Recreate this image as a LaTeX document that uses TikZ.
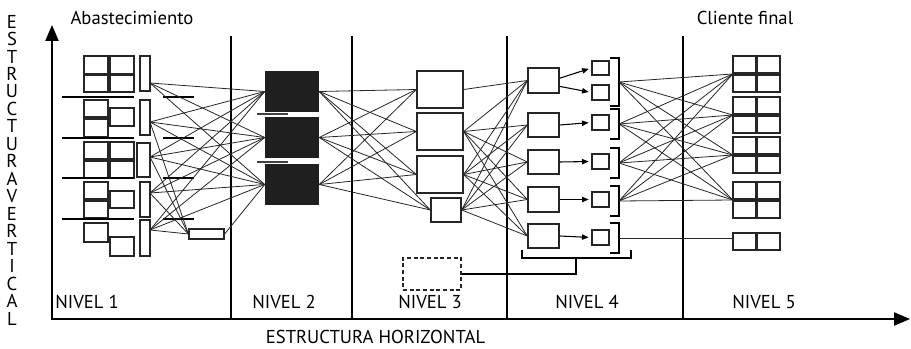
\documentclass[tikz,border=0pt]{standalone}
\usepackage{fontspec}
\setmainfont{PT Sans}
\usetikzlibrary{arrows.meta,fit}

\tikzset{
  box/.style={draw=black!85, line width=1pt, inner sep=0pt},
  blk/.style={fill=black!88, inner sep=0pt},
  wire/.style={line width=0.6pt, black!85},
  arr/.style={line width=0.8pt, -{Triangle[length=5pt,width=4pt]}, shorten >=2pt},
  lbl/.style={font=\fontsize{14}{16}\selectfont, inner sep=0pt},
}

\begin{document}
\begin{tikzpicture}[x=0.75pt, y=-0.75pt]
  \useasboundingbox (0,0) rectangle (911,349);

  % axes and level separators
  \draw[line width=1pt, {Triangle[length=12pt,width=10pt]}-{Triangle[length=12pt,width=10pt]}]
    (52,25) -- (52,319) -- (910,319);
  \foreach \x in {231,352,507,683}
    \draw[line width=0.8pt] (\x,36) -- (\x,319);

  % nivel 1
  \foreach \n/\xa/\ya/\xb/\yb in {a11/84/56/108/74, a12/110/56/134/74, a13/84/75/108/92,
      a14/110/75/134/92, n1/140/56/150/91,
      a21/84/100/108/117, a22/84/119/108/137, a23/110/108/134/126, n2/140/100/150/135,
      a31/84/142/108/159, a32/110/142/134/159, a33/84/161/108/178, a34/110/161/134/178,
      n3/137/143/150/177,
      a41/84/182/108/199, a42/84/201/108/218, a43/110/191/134/208, n4/140/182/150/217,
      a51/84/223/108/242, a52/110/237/134/256, n5/140/220/150/256, h/189/229/224/239}
    \node[box, fit={(\xa,\ya) (\xb,\yb)}] (\n) {};
  \foreach \y in {97,138,178,219} {
    \draw[line width=1pt] (62,\y) -- (134,\y);
    \draw[line width=1pt] (163,\y) -- (194,\y);
  }
  \coordinate (o1) at (150,83);
  \coordinate (o2) at (150,122);
  \coordinate (o3) at (150,157);
  \coordinate (o4) at (150,193);
  \coordinate (o5) at (150,230);

  % nivel 2
  \foreach \n/\ya/\yb in {b1/71/112, b2/117/158, b3/164/205}
    \node[blk, fit={(265,\ya) (319,\yb)}] (\n) {};
  \draw[line width=1.2pt, black!75] (257,114) -- (288,114);
  \draw[line width=1.2pt, black!75] (257,162) -- (288,162);

  % nivel 3
  \foreach \n/\xa/\ya/\xb/\yb in {c1/417/71/463/108, c2/417/113/463/150,
      c3/417/156/463/193, c4/431/198/461/222}
    \node[box, fit={(\xa,\ya) (\xb,\yb)}] (\n) {};
  \node[box, line width=0.8pt, dash pattern=on 3pt off 2pt, fit={(403,258) (461,290)}] (cd) {};

  % nivel 4
  \foreach \n/\ya/\yb in {d1/68/93, d2/113/137, d3/150/174, d4/187/212, d5/224/248}
    \node[box, fit={(528,\ya) (559,\yb)}] (\n) {};
  \foreach \n/\ya/\yb in {e1a/61/75, e1b/85/100, e2/115/130, e3/154/169, e4/192/207, e5/230/245}
    \node[box, fit={(592,\ya) (609,\yb)}] (\n) {};
  \foreach \t/\b/\k in {58/106/1, 109/139/2, 148/178/3, 186/216/4, 223/253/5} {
    \draw[line width=1pt] (610,\t) -- (619,\t) -- (619,\b) -- (610,\b);
    \coordinate (k\k) at (619,{(\t+\b)/2});
  }
  \draw[line width=1pt] (522,250) -- (522,258) -- (631,258) -- (631,250);
  \coordinate (kb) at (576,258);
  \draw[line width=1pt] (kb) |- (cd.east);

  % nivel 5
  \foreach \g/\ya/\yb/\yc/\yd in {A/56/73/75/92, B/97/114/116/133, C/137/154/156/173, D/182/199/201/218} {
    \node[box, fit={(733,\ya) (756,\yb)}] (f\g1) {};
    \node[box, fit={(757,\ya) (780,\yb)}] (f\g2) {};
    \node[box, fit={(733,\yc) (756,\yd)}] (f\g3) {};
    \node[box, fit={(757,\yc) (780,\yd)}] (f\g4) {};
    \node[inner sep=0pt, fit={(733,\ya) (780,\yd)}] (g\g) {};
  }
  \node[box, fit={(733,233) (756,250)}] (fE1) {};
  \node[box, fit={(757,233) (780,250)}] (fE2) {};
  \node[inner sep=0pt, fit={(733,233) (780,250)}] (gE) {};

  % connections
  \foreach \i in {1,...,5}
    \foreach \j in {1,2,3}
      \draw[wire] (o\i) -- (b\j.west);
  \foreach \i in {2,...,5}
    \draw[wire] (o\i) -- (h.west);
  \draw[wire] (h.east) -- (b3.west);
  \foreach \i in {1,2,3}
    \foreach \j in {1,...,4}
      \draw[wire] (b\i.east) -- (c\j.west);
  \draw[wire] (c1.east) -- (d1.west);
  \foreach \i in {2,3,4}
    \foreach \j in {1,...,5}
      \draw[wire] (c\i.east) -- (d\j.west);
  \draw[arr] (d1.8) -- (e1a.west);
  \draw[arr] (d1.-20) -- (e1b.west);
  \foreach \i in {2,...,5}
    \draw[arr] (d\i.east) -- (e\i.west);
  \foreach \i in {1,...,4}
    \foreach \g in {A,B,C,D}
      \draw[wire] (k\i) -- (g\g.west);
  \draw[wire] (k5) -- (k5 -| gE.west);

  % labels
  \node[lbl] (abs) at (132,18) {Abastecimiento};
  \node[lbl] (cli) at (745,18) {Cliente final};
  \node[lbl] (niv1) at (87,302) {NIVEL 1};
  \node[lbl] (niv2) at (284,302) {NIVEL 2};
  \node[lbl] (niv3) at (430,302) {NIVEL 3};
  \node[lbl] (niv4) at (587,302) {NIVEL 4};
  \node[lbl] (niv5) at (764,302) {NIVEL 5};
  \node[lbl] (hor) at (375.5,337) {ESTRUCTURA HORIZONTAL};
  \node[lbl, align=center, font=\fontsize{14}{13.1}\selectfont] (ver) at (12,170)
    {E\\S\\T\\R\\U\\C\\T\\U\\R\\A\\V\\E\\R\\T\\I\\C\\A\\L};
\end{tikzpicture}
\end{document}
